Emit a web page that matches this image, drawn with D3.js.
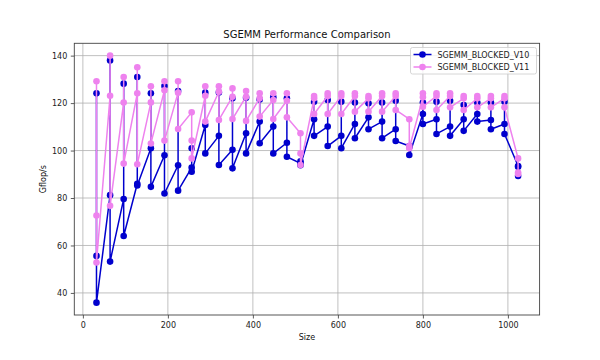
<!DOCTYPE html>
<html>
<head>
<meta charset="utf-8">
<script src="https://cdn.jsdelivr.net/npm/d3@7"></script>
<style>
  html, body { margin: 0; padding: 0; background: #ffffff; }
  svg { display: block; font-family: "DejaVu Sans", sans-serif; }
</style>
</head>
<body>
<svg id="chart" width="600" height="360"></svg>
<script>
// ---- data ----
const title = "SGEMM Performance Comparison";
const xLabel = "Size";
const yLabel = "Gflop/s";
const seriesNames = ["SGEMM_BLOCKED_V10", "SGEMM_BLOCKED_V11"];
const sizes = [32, 64, 96, 128, 160, 192, 224, 256, 288, 320, 352, 384, 416, 448, 480, 512,
               544, 576, 608, 640, 672, 704, 736, 768, 800, 832, 864, 896, 928, 960, 992, 1024];
// three measurements per size, in plotted order
const v10 = [
  [55.6, 124.1, 35.9], [81.2, 138.0, 53.2], [79.6, 128.2, 64.0], [86.0, 131.0, 85.3],
  [101.0, 124.1, 84.7], [98.0, 127.2, 81.9], [93.8, 125.1, 83.1], [92.8, 101.0, 91.1],
  [110.8, 124.4, 98.8], [106.2, 124.5, 93.9], [100.3, 122.0, 92.5], [107.3, 122.3, 98.8],
  [112.2, 121.5, 103.1], [110.1, 122.5, 98.8], [103.3, 122.0, 97.4], [94.6, 95.5, 93.8],
  [113.2, 120.6, 106.2], [110.1, 121.3, 101.9], [106.2, 120.6, 101.0], [111.2, 120.2, 105.2],
  [114.0, 119.9, 109.0], [112.2, 120.2, 105.2], [109.0, 121.0, 104.0], [101.9, 101.5, 98.1],
  [115.4, 120.2, 111.2], [113.2, 120.6, 107.0], [110.1, 121.0, 106.2], [113.2, 119.2, 108.3],
  [115.4, 120.2, 112.2], [112.9, 120.2, 109.0], [111.2, 120.6, 107.0], [93.5, 93.2, 89.3]
];
const v11 = [
  [72.6, 129.2, 52.8], [123.1, 140.0, 76.7], [120.2, 131.0, 94.5], [124.1, 135.1, 94.2],
  [120.3, 127.1, 103.0], [125.4, 129.2, 104.2], [124.4, 129.2, 109.1], [116.1, 104.2, 96.7],
  [123.1, 127.1, 112.2], [124.8, 127.1, 112.9], [122.7, 126.2, 113.3], [122.7, 125.1, 112.5],
  [122.0, 124.1, 114.3], [121.3, 124.1, 113.3], [121.0, 124.1, 114.0], [107.3, 98.8, 93.9],
  [122.0, 123.0, 115.4], [123.0, 124.1, 115.4], [123.0, 124.1, 115.4], [123.0, 124.1, 116.4],
  [122.0, 123.0, 116.4], [123.0, 124.1, 116.4], [123.0, 124.1, 117.1], [113.2, 101.9, 101.0],
  [122.5, 124.1, 118.5], [123.0, 124.1, 117.1], [123.0, 124.1, 118.2], [122.0, 123.0, 117.1],
  [122.0, 123.0, 118.2], [122.0, 123.0, 118.2], [122.0, 123.0, 118.2], [96.7, 90.7, 90.1]
];
const xTicks = [0, 200, 400, 600, 800, 1000];
const yTicks = [40, 60, 80, 100, 120, 140];

// ---- layout ----
const plot = { left: 74.3, right: 539.6, top: 43.3, bottom: 315 };
const colors = ["#0000cd", "#ee82ee"];

const svg = d3.select("#chart");
const x = d3.scaleLinear().domain([-20.2, 1074.6]).range([plot.left, plot.right]);
const y = d3.scaleLinear().domain([30.7, 145.2]).range([plot.bottom, plot.top]);

// grid
const grid = svg.append("g").attr("stroke", "#b0b0b0").attr("stroke-width", 0.8);
grid.selectAll("line.gx").data(xTicks).join("line")
  .attr("x1", d => x(d)).attr("x2", d => x(d))
  .attr("y1", plot.top).attr("y2", plot.bottom);
grid.selectAll("line.gy").data(yTicks).join("line")
  .attr("x1", plot.left).attr("x2", plot.right)
  .attr("y1", d => y(d)).attr("y2", d => y(d));

// series
function flatten(vals) {
  const pts = [];
  sizes.forEach((s, i) => vals[i].forEach(v => pts.push([s, v])));
  return pts;
}
const allSeries = [v10, v11];
const line = d3.line().x(d => x(d[0])).y(d => y(d[1]));
allSeries.forEach((vals, k) => {
  const pts = flatten(vals);
  const g = svg.append("g");
  g.append("path").datum(pts)
    .attr("fill", "none").attr("stroke", colors[k]).attr("stroke-width", 1.5)
    .attr("stroke-linejoin", "round")
    .attr("d", line);
  g.selectAll("circle").data(pts).join("circle")
    .attr("cx", d => x(d[0])).attr("cy", d => y(d[1])).attr("r", 3.3)
    .attr("fill", colors[k]);
});

// axes
const xAxis = d3.axisBottom(x).tickValues(xTicks).tickSize(3.5).tickPadding(3.5).tickFormat(d3.format("d"));
const yAxis = d3.axisLeft(y).tickValues(yTicks).tickSize(3.5).tickPadding(3.5).tickFormat(d3.format("d"));
const gx = svg.append("g").attr("transform", `translate(0,${plot.bottom})`).call(xAxis);
const gy = svg.append("g").attr("transform", `translate(${plot.left},0)`).call(yAxis);
[gx, gy].forEach(g => {
  g.select(".domain").remove();
  g.selectAll(".tick line").attr("stroke", "#333").attr("stroke-width", 0.8);
  g.selectAll(".tick text").attr("fill", "#222").attr("font-size", 8)
    .attr("font-family", "DejaVu Sans, sans-serif");
});

// frame
svg.append("rect")
  .attr("x", plot.left).attr("y", plot.top)
  .attr("width", plot.right - plot.left).attr("height", plot.bottom - plot.top)
  .attr("fill", "none").attr("stroke", "#444").attr("stroke-width", 0.9);

// title & labels
svg.append("text").attr("x", (plot.left + plot.right) / 2).attr("y", 38)
  .attr("text-anchor", "middle").attr("font-size", 10).attr("fill", "#111").text(title);
svg.append("text").attr("x", (plot.left + plot.right) / 2).attr("y", 340)
  .attr("text-anchor", "middle").attr("font-size", 8).attr("fill", "#111").text(xLabel);
svg.append("text")
  .attr("transform", `translate(46,${(plot.top + plot.bottom) / 2}) rotate(-90)`)
  .attr("text-anchor", "middle").attr("font-size", 8).attr("fill", "#111").text(yLabel);

// legend
const lg = svg.append("g").attr("transform", "translate(410.5,47.5)");
lg.append("rect").attr("width", 126).attr("height", 26.5).attr("rx", 2)
  .attr("fill", "#fff").attr("fill-opacity", 0.8).attr("stroke", "#ccc").attr("stroke-width", 0.8);
seriesNames.forEach((name, i) => {
  const row = lg.append("g").attr("transform", `translate(0,${7 + i * 12.5})`);
  row.append("line").attr("x1", 3).attr("x2", 21).attr("y1", 0).attr("y2", 0)
    .attr("stroke", colors[i]).attr("stroke-width", 1.5);
  row.append("circle").attr("cx", 12).attr("cy", 0).attr("r", 3.3).attr("fill", colors[i]);
  row.append("text").attr("x", 27).attr("y", 3).attr("font-size", 8).attr("fill", "#222").text(name);
});
</script>
</body>
</html>
